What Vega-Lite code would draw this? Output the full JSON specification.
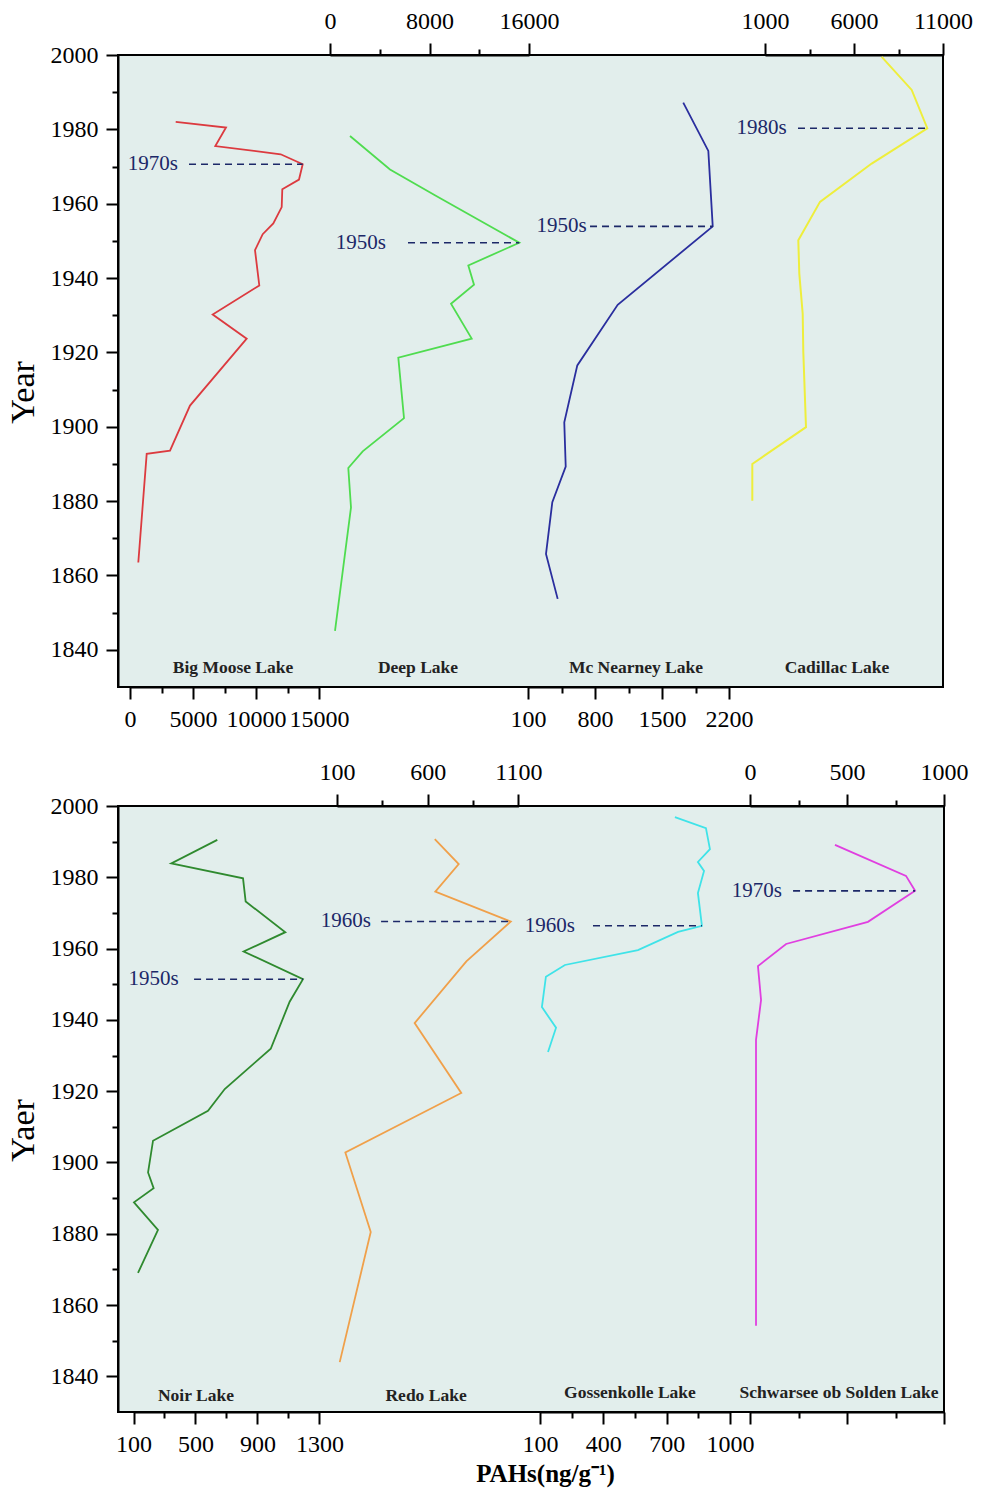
{
  "$schema": "https://vega.github.io/schema/vega-lite/v6.json",
  "background": "white",
  "padding": {"left": 5, "top": 8, "right": 5, "bottom": 5},
  "config": {
    "view": {"fill": "#e2eeec", "stroke": "black", "strokeWidth": 2},
    "axis": {"grid": false, "domainColor": "black", "domainWidth": 2, "tickColor": "black", "tickWidth": 2, "labelFont": "Liberation Serif", "labelFontSize": 24, "labelColor": "black", "labelOverlap": false, "labelFlush": false, "titleFont": "Liberation Serif", "titleColor": "black", "titleFontWeight": "normal"},
    "text": {"font": "Liberation Serif"}
  },
  "spacing": 27,
  "vconcat": [
    {
      "width": 825,
      "height": 632,
      "encoding": {
        "y": {"field": "year", "type": "quantitative", "scale": {"domain": [1830, 2000], "nice": false, "zero": false},
          "axis": {"values": [1840,1850,1860,1870,1880,1890,1900,1910,1920,1930,1940,1950,1960,1970,1980,1990,2000], "format": "d", "labelExpr": "datum.value % 20 === 0 ? datum.label : ''", "tickSize": {"condition": {"test": "datum.value % 20 === 0", "value": 12}, "value": 6}, "labelPadding": 8, "title": "Year", "titleFontSize": 34, "titlePadding": 10, "titleY": 337}}
      },
      "layer": [
        {
          "encoding": {"x": {"field": "v", "type": "quantitative", "scale": {"domain": [0, 15000], "range": [12, 201], "nice": false, "zero": false},
            "axis": {"orient": "bottom", "title": null, "values": [0,2500,5000,7500,10000,12500,15000], "format": "d", "labelExpr": "datum.value % 5000 === 0 ? datum.label : ''", "tickSize": {"condition": {"test": "datum.value % 5000 === 0", "value": 12}, "value": 6}, "labelPadding": 8}}},
          "layer": [
            {"data": {"values": [{"v":3627,"year":1982.0},{"v":7619,"year":1980.5},{"v":6770,"year":1975.5},{"v":11960,"year":1973.3},{"v":13706,"year":1970.6},{"v":13413,"year":1966.5},{"v":12087,"year":1963.9},{"v":12040,"year":1959.1},{"v":11373,"year":1954.7},{"v":10532,"year":1951.8},{"v":9921,"year":1947.5},{"v":10262,"year":1938.0},{"v":6563,"year":1930.2},{"v":9262,"year":1923.7},{"v":4762,"year":1905.7},{"v":3175,"year":1893.6},{"v":1325,"year":1892.7},{"v":659,"year":1863.5}]},
              "mark": {"type": "line", "color": "#dc3a3f", "strokeWidth": 1.8}, "encoding": {"order": {"field": "year", "type": "quantitative"}}},
            {"data": {"values": [{"v": 4683, "v2": 13706, "year": 1970.6}]}, "mark": {"type": "rule", "color": "#1c2868", "strokeDash": [7, 5], "strokeWidth": 1.6}, "encoding": {"x2": {"field": "v2"}}},
            {"data": {"values": [{"v": 3810, "year": 1970.6, "label": "1970s"}]}, "mark": {"type": "text", "align": "right", "baseline": "middle", "fontSize": 21, "color": "#1c2868"}, "encoding": {"text": {"field": "label"}}},
            {"data": {"values": [{"v": 8175, "year": 1835, "label": "Big Moose Lake"}]}, "mark": {"type": "text", "align": "center", "baseline": "middle", "fontSize": 17.5, "fontWeight": "bold", "color": "#222222"}, "encoding": {"text": {"field": "label"}}}
          ]
        },
        {
          "encoding": {"x": {"field": "v", "type": "quantitative", "scale": {"domain": [0, 16000], "range": [212, 411], "nice": false, "zero": false},
            "axis": {"orient": "top", "title": null, "values": [0,4000,8000,12000,16000], "format": "d", "labelExpr": "datum.value % 8000 === 0 ? datum.label : ''", "tickSize": {"condition": {"test": "datum.value % 8000 === 0", "value": 12}, "value": 6}, "labelPadding": 10}}},
          "layer": [
            {"data": {"values": [{"v":1608,"year":1978.2},{"v":4824,"year":1969.2},{"v":8579,"year":1962.0},{"v":15220,"year":1949.5},{"v":11120,"year":1943.4},{"v":11578,"year":1938.2},{"v":9729,"year":1933.1},{"v":11393,"year":1923.7},{"v":5492,"year":1918.6},{"v":5950,"year":1902.3},{"v":2629,"year":1893.4},{"v":1471,"year":1888.9},{"v":1688,"year":1878.3},{"v":402,"year":1845.1}]},
              "mark": {"type": "line", "color": "#4fdc4f", "strokeWidth": 1.8}, "encoding": {"order": {"field": "year", "type": "quantitative"}}},
            {"data": {"values": [{"v": 6271, "v2": 15220, "year": 1949.5}]}, "mark": {"type": "rule", "color": "#1c2868", "strokeDash": [7, 5], "strokeWidth": 1.6}, "encoding": {"x2": {"field": "v2"}}},
            {"data": {"values": [{"v": 4502, "year": 1949.5, "label": "1950s"}]}, "mark": {"type": "text", "align": "right", "baseline": "middle", "fontSize": 21, "color": "#1c2868"}, "encoding": {"text": {"field": "label"}}},
            {"data": {"values": [{"v": 7075, "year": 1835, "label": "Deep Lake"}]}, "mark": {"type": "text", "align": "center", "baseline": "middle", "fontSize": 17.5, "fontWeight": "bold", "color": "#222222"}, "encoding": {"text": {"field": "label"}}}
          ]
        },
        {
          "encoding": {"x": {"field": "v", "type": "quantitative", "scale": {"domain": [100, 2200], "range": [410, 611], "nice": false, "zero": false},
            "axis": {"orient": "bottom", "title": null, "values": [100,450,800,1150,1500,1850,2200], "format": "d", "labelExpr": "(datum.value - 100) % 700 === 0 ? datum.label : ''", "tickSize": {"condition": {"test": "(datum.value - 100) % 700 === 0", "value": 12}, "value": 6}, "labelPadding": 8}}},
          "layer": [
            {"data": {"values": [{"v":1722,"year":1987.2},{"v":1984,"year":1974.2},{"v":2030,"year":1953.9},{"v":1037,"year":1932.8},{"v":615,"year":1916.5},{"v":479,"year":1901.2},{"v":494,"year":1889.3},{"v":354,"year":1879.7},{"v":288,"year":1865.8},{"v":410,"year":1853.7}]},
              "mark": {"type": "line", "color": "#2a2e9e", "strokeWidth": 1.8}, "encoding": {"order": {"field": "year", "type": "quantitative"}}},
            {"data": {"values": [{"v": 748, "v2": 2030, "year": 1953.9}]}, "mark": {"type": "rule", "color": "#1c2868", "strokeDash": [7, 5], "strokeWidth": 1.6}, "encoding": {"x2": {"field": "v2"}}},
            {"data": {"values": [{"v": 713, "year": 1953.9, "label": "1950s"}]}, "mark": {"type": "text", "align": "right", "baseline": "middle", "fontSize": 21, "color": "#1c2868"}, "encoding": {"text": {"field": "label"}}},
            {"data": {"values": [{"v": 1228, "year": 1835, "label": "Mc Nearney Lake"}]}, "mark": {"type": "text", "align": "center", "baseline": "middle", "fontSize": 17.5, "fontWeight": "bold", "color": "#222222"}, "encoding": {"text": {"field": "label"}}}
          ]
        },
        {
          "encoding": {"x": {"field": "v", "type": "quantitative", "scale": {"domain": [1000, 11000], "range": [647, 825], "nice": false, "zero": false},
            "axis": {"orient": "top", "title": null, "values": [1000,3500,6000,8500,11000], "format": "d", "labelExpr": "(datum.value - 1000) % 5000 === 0 ? datum.label : ''", "tickSize": {"condition": {"test": "(datum.value - 1000) % 5000 === 0", "value": 12}, "value": 6}, "labelPadding": 10}}},
          "layer": [
            {"data": {"values": [{"v":7556,"year":1999.5},{"v":9242,"year":1990.6},{"v":10118,"year":1980.3},{"v":6994,"year":1970.8},{"v":4090,"year":1960.5},{"v":2871,"year":1950.2},{"v":2927,"year":1941.2},{"v":3118,"year":1930.4},{"v":3152,"year":1920.1},{"v":3303,"year":1899.9},{"v":287,"year":1890.0},{"v":287,"year":1880.1}]},
              "mark": {"type": "line", "color": "#eeee3c", "strokeWidth": 2}, "encoding": {"order": {"field": "year", "type": "quantitative"}}},
            {"data": {"values": [{"v": 2854, "v2": 10118, "year": 1980.3}]}, "mark": {"type": "rule", "color": "#1c2868", "strokeDash": [7, 5], "strokeWidth": 1.6}, "encoding": {"x2": {"field": "v2"}}},
            {"data": {"values": [{"v": 2219, "year": 1980.3, "label": "1980s"}]}, "mark": {"type": "text", "align": "right", "baseline": "middle", "fontSize": 21, "color": "#1c2868"}, "encoding": {"text": {"field": "label"}}},
            {"data": {"values": [{"v": 5045, "year": 1835, "label": "Cadillac Lake"}]}, "mark": {"type": "text", "align": "center", "baseline": "middle", "fontSize": 17.5, "fontWeight": "bold", "color": "#222222"}, "encoding": {"text": {"field": "label"}}}
          ]
        }
      ],
      "resolve": {"scale": {"x": "independent"}, "axis": {"x": "independent"}}
    },
    {
      "width": 826,
      "height": 606,
      "encoding": {
        "y": {"field": "year", "type": "quantitative", "scale": {"domain": [1830, 2000], "nice": false, "zero": false},
          "axis": {"values": [1840,1850,1860,1870,1880,1890,1900,1910,1920,1930,1940,1950,1960,1970,1980,1990,2000], "format": "d", "labelExpr": "datum.value % 20 === 0 ? datum.label : ''", "tickSize": {"condition": {"test": "datum.value % 20 === 0", "value": 12}, "value": 6}, "labelPadding": 8, "title": "Yaer", "titleFontSize": 34, "titlePadding": 10, "titleY": 324}}
      },
      "layer": [
        {
          "encoding": {"x": {"field": "v", "type": "quantitative", "scale": {"domain": [100, 1300], "range": [15.5, 201.4], "nice": false, "zero": false},
            "axis": {"orient": "bottom", "title": null, "values": [100,300,500,700,900,1100,1300], "format": "d", "labelExpr": "(datum.value - 100) % 400 === 0 ? datum.label : ''", "tickSize": {"condition": {"test": "(datum.value - 100) % 400 === 0", "value": 12}, "value": 6}, "labelPadding": 8}}},
          "layer": [
            {"data": {"values": [{"v":641,"year":1990.5},{"v":344,"year":1983.9},{"v":807,"year":1979.7},{"v":824,"year":1973.2},{"v":1080,"year":1964.6},{"v":811,"year":1959.2},{"v":1194,"year":1951.4},{"v":1108,"year":1945.1},{"v":986,"year":1931.9},{"v":689,"year":1920.6},{"v":581,"year":1914.5},{"v":226,"year":1906.1},{"v":194,"year":1897.2},{"v":230,"year":1892.8},{"v":103,"year":1888.8},{"v":258,"year":1881.1},{"v":129,"year":1869.0}]},
              "mark": {"type": "line", "color": "#2f8a2f", "strokeWidth": 1.8}, "encoding": {"order": {"field": "year", "type": "quantitative"}}},
            {"data": {"values": [{"v": 491, "v2": 1194, "year": 1951.4}]}, "mark": {"type": "rule", "color": "#1c2868", "strokeDash": [7, 5], "strokeWidth": 1.6}, "encoding": {"x2": {"field": "v2"}}},
            {"data": {"values": [{"v": 392, "year": 1951.4, "label": "1950s"}]}, "mark": {"type": "text", "align": "right", "baseline": "middle", "fontSize": 21, "color": "#1c2868"}, "encoding": {"text": {"field": "label"}}},
            {"data": {"values": [{"v": 503, "year": 1834.6, "label": "Noir Lake"}]}, "mark": {"type": "text", "align": "center", "baseline": "middle", "fontSize": 17.5, "fontWeight": "bold", "color": "#222222"}, "encoding": {"text": {"field": "label"}}}
          ]
        },
        {
          "encoding": {"x": {"field": "v", "type": "quantitative", "scale": {"domain": [100, 1100], "range": [219, 400.4], "nice": false, "zero": false},
            "axis": {"orient": "top", "title": null, "values": [100,350,600,850,1100], "format": "d", "labelExpr": "(datum.value - 100) % 500 === 0 ? datum.label : ''", "tickSize": {"condition": {"test": "(datum.value - 100) % 500 === 0", "value": 12}, "value": 6}, "labelPadding": 10}}},
          "layer": [
            {"data": {"values": [{"v":639,"year":1990.7},{"v":771,"year":1983.7},{"v":642,"year":1976.0},{"v":1058,"year":1967.6},{"v":813,"year":1956.4},{"v":528,"year":1939.1},{"v":785,"year":1919.5},{"v":146,"year":1902.8},{"v":286,"year":1880.5},{"v":115,"year":1844.0}]},
              "mark": {"type": "line", "color": "#f0a04a", "strokeWidth": 1.8}, "encoding": {"order": {"field": "year", "type": "quantitative"}}},
            {"data": {"values": [{"v": 343, "v2": 1058, "year": 1967.6}]}, "mark": {"type": "rule", "color": "#1c2868", "strokeDash": [7, 5], "strokeWidth": 1.6}, "encoding": {"x2": {"field": "v2"}}},
            {"data": {"values": [{"v": 287, "year": 1967.6, "label": "1960s"}]}, "mark": {"type": "text", "align": "right", "baseline": "middle", "fontSize": 21, "color": "#1c2868"}, "encoding": {"text": {"field": "label"}}},
            {"data": {"values": [{"v": 591, "year": 1834.6, "label": "Redo Lake"}]}, "mark": {"type": "text", "align": "center", "baseline": "middle", "fontSize": 17.5, "fontWeight": "bold", "color": "#222222"}, "encoding": {"text": {"field": "label"}}}
          ]
        },
        {
          "encoding": {"x": {"field": "v", "type": "quantitative", "scale": {"domain": [100, 1000], "range": [422, 612], "nice": false, "zero": false},
            "axis": {"orient": "bottom", "title": "PAHs(ng/g⁻¹)", "titleFontSize": 25, "titleFontWeight": "bold", "titleX": 427, "titlePadding": 5, "values": [100,250,400,550,700,850,1000], "format": "d", "labelExpr": "(datum.value - 100) % 300 === 0 ? datum.label : ''", "tickSize": {"condition": {"test": "(datum.value - 100) % 300 === 0", "value": 12}, "value": 6}, "labelPadding": 8}}},
          "layer": [
            {"data": {"values": [{"v":739,"year":1996.9},{"v":886,"year":1993.8},{"v":905,"year":1987.9},{"v":848,"year":1984.3},{"v":877,"year":1981.8},{"v":848,"year":1975.6},{"v":867,"year":1966.4},{"v":754,"year":1964.7},{"v":564,"year":1959.6},{"v":218,"year":1955.4},{"v":128,"year":1952.1},{"v":109,"year":1943.6},{"v":176,"year":1937.8},{"v":138,"year":1931.0}]},
              "mark": {"type": "line", "color": "#3fe3e8", "strokeWidth": 1.8}, "encoding": {"order": {"field": "year", "type": "quantitative"}}},
            {"data": {"values": [{"v": 351, "v2": 867, "year": 1966.4}]}, "mark": {"type": "rule", "color": "#1c2868", "strokeDash": [7, 5], "strokeWidth": 1.6}, "encoding": {"x2": {"field": "v2"}}},
            {"data": {"values": [{"v": 266, "year": 1966.4, "label": "1960s"}]}, "mark": {"type": "text", "align": "right", "baseline": "middle", "fontSize": 21, "color": "#1c2868"}, "encoding": {"text": {"field": "label"}}},
            {"data": {"values": [{"v": 526, "year": 1835.4, "label": "Gossenkolle Lake"}]}, "mark": {"type": "text", "align": "center", "baseline": "middle", "fontSize": 17.5, "fontWeight": "bold", "color": "#222222"}, "encoding": {"text": {"field": "label"}}}
          ]
        },
        {
          "encoding": {"x": {"field": "v", "type": "quantitative", "scale": {"domain": [0, 1000], "range": [632, 826], "nice": false, "zero": false},
            "axis": {"orient": "top", "title": null, "values": [0,250,500,750,1000], "format": "d", "labelExpr": "datum.value % 500 === 0 ? datum.label : ''", "tickSize": {"condition": {"test": "datum.value % 500 === 0", "value": 12}, "value": 6}, "labelPadding": 10}}},
          "layer": [
            {"data": {"values": [{"v":438,"year":1989.1},{"v":804,"year":1980.4},{"v":851,"year":1976.2},{"v":608,"year":1967.5},{"v":186,"year":1961.3},{"v":41,"year":1955.1},{"v":57,"year":1945.6},{"v":31,"year":1934.4},{"v":31,"year":1854.2}]},
              "mark": {"type": "line", "color": "#e03fe0", "strokeWidth": 1.8}, "encoding": {"order": {"field": "year", "type": "quantitative"}}},
            {"data": {"values": [{"v": 222, "v2": 851, "year": 1976.2}]}, "mark": {"type": "rule", "color": "#1c2868", "strokeDash": [7, 5], "strokeWidth": 1.6}, "encoding": {"x2": {"field": "v2"}}},
            {"data": {"values": [{"v": 165, "year": 1976.2, "label": "1970s"}]}, "mark": {"type": "text", "align": "right", "baseline": "middle", "fontSize": 21, "color": "#1c2868"}, "encoding": {"text": {"field": "label"}}},
            {"data": {"values": [{"v": 459, "year": 1835.4, "label": "Schwarsee ob Solden Lake"}]}, "mark": {"type": "text", "align": "center", "baseline": "middle", "fontSize": 17.5, "fontWeight": "bold", "color": "#222222"}, "encoding": {"text": {"field": "label"}}}
          ]
        },
        {
          "data": {"values": [{"v": 0, "year": 1900}]},
          "mark": {"type": "point", "opacity": 0},
          "encoding": {"x": {"field": "v", "type": "quantitative", "scale": {"domain": [0, 1000], "range": [632, 826], "nice": false, "zero": false},
            "axis": {"orient": "bottom", "title": null, "values": [0,250,500,750,1000], "labels": false, "tickSize": {"condition": {"test": "datum.value % 500 === 0", "value": 12}, "value": 6}}}}
        }
      ],
      "resolve": {"scale": {"x": "independent"}, "axis": {"x": "independent"}}
    }
  ]
}
